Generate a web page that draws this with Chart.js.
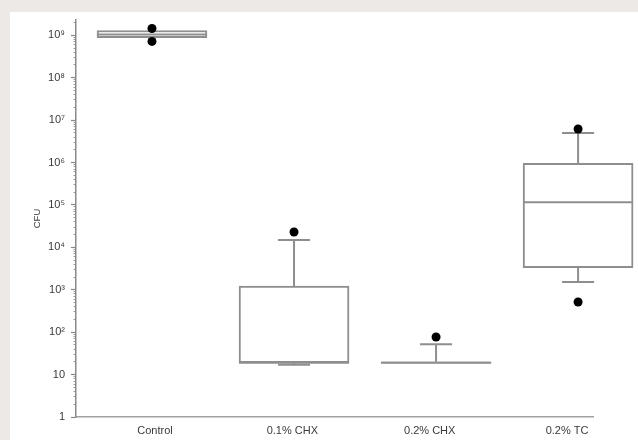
<!DOCTYPE html>
<html><head><meta charset="utf-8">
<script src="https://cdn.jsdelivr.net/npm/chart.js@4.4.0/dist/chart.umd.min.js"></script>
<style>
html,body{margin:0;padding:0;width:638px;height:440px;background:#ede9e7;overflow:hidden}
#panel{position:absolute;left:10px;top:12px;width:628px;height:428px;background:#fff}
#wrap{position:absolute;left:0;top:0;width:638px;height:440px}
</style></head><body>
<div id="panel"></div>
<div id="wrap"><canvas id="c" width="638" height="440"></canvas></div>
<script>
// ---- data ----
const categories = ['Control', '0.1% CHX', '0.2% CHX', '0.2% TC'];
const positions = [1, 2, 3, 4];
const whiskerLow = [8.8e8, 17, 19, 1520];
const q1 = [8.8e8, 19, 18.5, 3300];
const median = [1.05e9, 19, 19, 1.16e5];
const q3 = [1.3e9, 1230, 20, 9.6e5];
const whiskerHigh = [1.3e9, 14900, 52, 5.0e6];
const outlierGroup = [1, 1, 2, 3, 4, 4];
const outlierValues = [1.45e9, 7.2e8, 23000, 77, 6.2e6, 515];
const yMajorTicks = [1, 10, 1e2, 1e3, 1e4, 1e5, 1e6, 1e7, 1e8, 1e9];
const yTickLabels = ['1', '10', '10²', '10³', '10⁴', '10⁵', '10⁶', '10⁷', '10⁸', '10⁹'];
const yMinorTicks = [];
for (let k = 0; k <= 8; k++) for (let m = 2; m <= 9; m++) yMinorTicks.push(m * Math.pow(10, k));
yMinorTicks.push(2e9);

const FONT = "'Liberation Sans', 'DejaVu Sans', Arial, sans-serif";
const TXT = '#3a3a3a';
const BOXC = '#8e8e8e';

const boxParts = {
  id: 'boxParts',
  afterDatasetDraw(chart, args) {
    if (args.index !== 1) return;
    const ctx = chart.ctx, x = chart.scales.x, y = chart.scales.y;
    const meta = chart.getDatasetMeta(1);
    ctx.save();
    ctx.strokeStyle = BOXC;
    ctx.lineWidth = 2;
    const capHalf = 16;
    positions.forEach((p, i) => {
      const cx = x.getPixelForValue(p);
      const el = meta.data[i];
      const half = el.width / 2;
      const my = y.getPixelForValue(median[i]);
      ctx.beginPath(); ctx.moveTo(cx - half, my); ctx.lineTo(cx + half, my); ctx.stroke();
      if (whiskerHigh[i] > q3[i]) {
        const a = y.getPixelForValue(q3[i]), b = y.getPixelForValue(whiskerHigh[i]);
        ctx.beginPath(); ctx.moveTo(cx, a); ctx.lineTo(cx, b);
        ctx.moveTo(cx - capHalf, b); ctx.lineTo(cx + capHalf, b); ctx.stroke();
      }
      if (whiskerLow[i] < q1[i]) {
        const a = y.getPixelForValue(q1[i]), b = y.getPixelForValue(whiskerLow[i]);
        ctx.beginPath(); ctx.moveTo(cx, a); ctx.lineTo(cx, b);
        ctx.moveTo(cx - capHalf, b); ctx.lineTo(cx + capHalf, b); ctx.stroke();
      }
    });
    ctx.restore();
  }
};

new Chart(document.getElementById('c'), {
  type: 'bar',
  data: {
    datasets: [
      {
        type: 'scatter',
        order: 0,
        data: outlierGroup.map((g, i) => ({ x: g, y: outlierValues[i] })),
        backgroundColor: '#000',
        borderWidth: 0,
        pointRadius: 4.5,
        clip: false
      },
      {
        type: 'bar',
        order: 1,
        data: positions.map((p, i) => ({ x: p, y: [q1[i], q3[i]] })),
        backgroundColor: '#fff',
        borderColor: BOXC,
        borderWidth: 2,
        borderSkipped: false,
        barThickness: 110,
        clip: false
      }
    ]
  },
  options: {
    responsive: false,
    animation: false,
    devicePixelRatio: 1,
    layout: { padding: { left: 0, right: 45, top: 20, bottom: 0 } },
    plugins: { legend: { display: false }, tooltip: { enabled: false } },
    scales: {
      x: {
        type: 'linear', min: 0.465, max: 4.105, offset: false, position: 'bottom', weight: -1,
        ticks: { display: false },
        grid: { display: false },
        border: { color: '#a0a0a0', width: 1.5 },
        afterFit: s => { s.height = 0; }
      },
      xLab: {
        type: 'linear', min: 0.425, max: 4.189, offset: false, position: 'bottom', weight: 0,
        afterBuildTicks: s => { s.ticks = positions.map(v => ({ value: v })); },
        ticks: { callback: (v, i) => categories[i], autoSkip: false, maxRotation: 0, padding: 7, color: TXT, font: { family: FONT, size: 11 } },
        grid: { display: false, tickLength: 0 },
        border: { display: false },
        afterFit: s => { s.height = 23; }
      },
      y: {
        type: 'logarithmic', min: 1, max: 2.3e9, position: 'left', weight: 0,
        afterBuildTicks: s => { s.ticks = yMajorTicks.map(v => ({ value: v })); },
        ticks: { callback: (v, i) => yTickLabels[i], autoSkip: false, padding: 6, color: TXT, font: { family: FONT, size: 11 } },
        grid: { drawOnChartArea: false, tickLength: 5, color: '#888', tickWidth: 1.2 },
        border: { color: '#8a8a8a', width: 1.5 },
        title: { display: true, text: 'CFU', color: TXT, font: { family: FONT, size: 9.5 }, padding: { top: 32, bottom: 0 } },
        afterFit: s => { s.width = 76; }
      },
      yMinor: {
        type: 'logarithmic', min: 1, max: 2.3e9, position: 'left', weight: -1,
        afterBuildTicks: s => { s.ticks = yMinorTicks.map(v => ({ value: v })); },
        ticks: { display: false },
        grid: { drawOnChartArea: false, tickLength: 2.5, color: '#9a9a9a' },
        border: { display: false },
        afterFit: s => { s.width = 0; }
      }
    }
  },
  plugins: [boxParts]
});
</script>
</body></html>
